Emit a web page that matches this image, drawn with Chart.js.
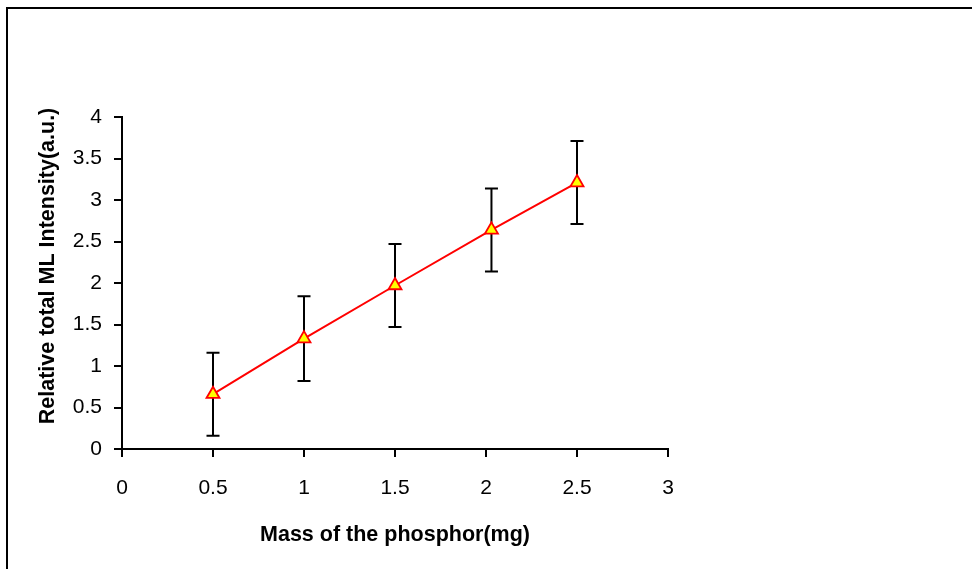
<!DOCTYPE html>
<html><head><meta charset="utf-8">
<script src="https://cdn.jsdelivr.net/npm/chart.js@4.4.1/dist/chart.umd.min.js"></script>
<style>
html,body{margin:0;padding:0;background:#fff;overflow:hidden}
#wrap{position:relative;width:972px;height:569px;overflow:hidden}
#frame{position:absolute;left:6px;top:7px;width:1000px;height:600px;border-left:2px solid #000;border-top:2px solid #000;box-sizing:border-box}
canvas{position:absolute;left:0;top:0}
</style></head><body>
<div id="wrap"><div id="frame"></div><canvas id="c" width="972" height="569"></canvas></div>
<script>
const massMg = [0.5, 1.0, 1.5, 2.03, 2.5];
const intensity = [0.66, 1.33, 1.97, 2.64, 3.21];
const errorBar = [0.5, 0.51, 0.5, 0.5, 0.5];
const xTickValues = [0, 0.5, 1, 1.5, 2, 2.5, 3];
const yTickValues = [0, 0.5, 1, 1.5, 2, 2.5, 3, 3.5, 4];
const xTitle = 'Mass of the phosphor(mg)';
const yTitle = 'Relative total ML Intensity(a.u.)';

const FONT = "'Liberation Sans', Arial, sans-serif";

const errorBarsPlugin = {
  id: 'errorBars',
  beforeDatasetsDraw(chart) {
    const { ctx, scales: { x, y } } = chart;
    ctx.save();
    ctx.strokeStyle = '#000';
    ctx.lineWidth = 2;
    massMg.forEach((m, i) => {
      const px = x.getPixelForValue(m);
      const top = y.getPixelForValue(intensity[i] + errorBar[i]);
      const bot = y.getPixelForValue(intensity[i] - errorBar[i]);
      ctx.beginPath();
      ctx.moveTo(px, top); ctx.lineTo(px, bot);
      ctx.moveTo(px - 6.5, top); ctx.lineTo(px + 6.5, top);
      ctx.moveTo(px - 6.5, bot); ctx.lineTo(px + 6.5, bot);
      ctx.stroke();
    });
    ctx.restore();
  }
};

const titlesPlugin = {
  id: 'axisTitles',
  afterDraw(chart) {
    const { ctx, chartArea } = chart;
    ctx.save();
    ctx.fillStyle = '#000';
    ctx.font = "bold 21.5px " + FONT;
    ctx.textAlign = 'center';
    ctx.textBaseline = 'alphabetic';
    ctx.fillText(xTitle, (chartArea.left + chartArea.right) / 2, 541);
    ctx.translate(48, 266);
    ctx.rotate(-Math.PI / 2);
    ctx.textBaseline = 'middle';
    ctx.fillText(yTitle, 0, 0);
    ctx.restore();
  }
};

new Chart(document.getElementById('c'), {
  type: 'line',
  data: {
    datasets: [{
      data: massMg.map((m, i) => ({ x: m, y: intensity[i] })),
      borderColor: '#FF0000',
      borderWidth: 2,
      backgroundColor: '#FFFF00',
      pointStyle: 'triangle',
      pointRadius: 7.5,
      pointHoverRadius: 7.5,
      pointBorderColor: '#FF0000',
      pointBackgroundColor: '#FFFF00',
      pointBorderWidth: 1.8,
      tension: 0,
      fill: false
    }]
  },
  options: {
    responsive: false,
    animation: false,
    events: [],
    layout: { padding: { left: 0, top: 117, right: 304, bottom: 0 } },
    plugins: { legend: { display: false }, tooltip: { enabled: false } },
    scales: {
      x: {
        type: 'linear', min: 0, max: 3,
        afterFit(s) { s.height = 120; },
        afterBuildTicks(s) { s.ticks = xTickValues.map(v => ({ value: v })); },
        grid: { drawOnChartArea: false, drawTicks: true, tickLength: 8, color: '#000', lineWidth: 2 },
        border: { display: true, color: '#000', width: 2 },
        ticks: { color: '#000', font: { family: FONT, size: 21 }, padding: 19, maxRotation: 0, callback: v => String(v) }
      },
      y: {
        type: 'linear', min: 0, max: 4,
        afterFit(s) { s.width = 122; },
        afterBuildTicks(s) { s.ticks = yTickValues.map(v => ({ value: v })); },
        grid: { drawOnChartArea: false, drawTicks: true, tickLength: 8, color: '#000', lineWidth: 2 },
        border: { display: true, color: '#000', width: 2 },
        ticks: { color: '#000', font: { family: FONT, size: 21 }, padding: 12, callback: v => String(v) }
      }
    }
  },
  plugins: [errorBarsPlugin, titlesPlugin]
});
</script>
</body></html>
